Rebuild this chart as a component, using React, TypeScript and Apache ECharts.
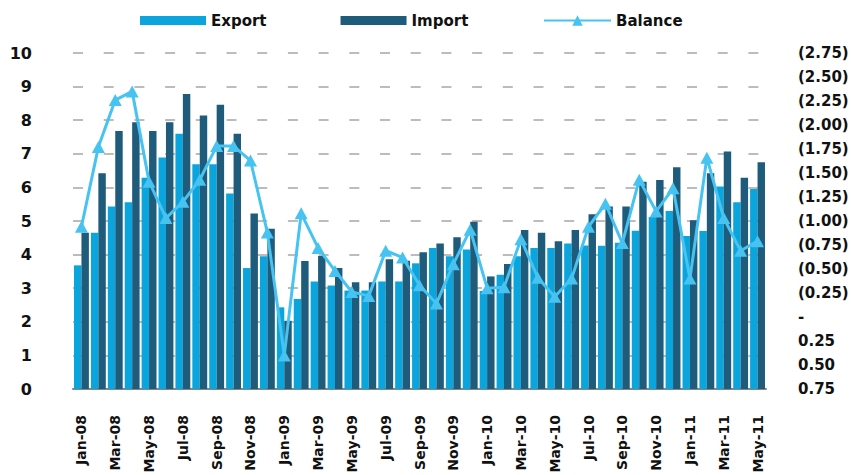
import React, { useEffect, useRef } from "react";
import * as echarts from "echarts";

const months = [
  "Jan-08","Feb-08","Mar-08","Apr-08","May-08","Jun-08","Jul-08","Aug-08","Sep-08","Oct-08","Nov-08","Dec-08",
  "Jan-09","Feb-09","Mar-09","Apr-09","May-09","Jun-09","Jul-09","Aug-09","Sep-09","Oct-09","Nov-09","Dec-09",
  "Jan-10","Feb-10","Mar-10","Apr-10","May-10","Jun-10","Jul-10","Aug-10","Sep-10","Oct-10","Nov-10","Dec-10",
  "Jan-11","Feb-11","Mar-11","Apr-11","May-11",
];

const exportValues = [
  3.68, 4.65, 5.43, 5.56, 6.29, 6.89, 7.6, 6.69, 6.69, 5.82, 3.6, 3.95,
  2.43, 2.68, 3.2, 3.08, 2.93, 2.93, 3.2, 3.2, 3.74, 4.2, 3.95, 4.15,
  2.92, 3.4, 3.95, 4.2, 4.2, 4.33, 4.27, 4.26, 4.35, 4.71, 5.12, 5.3,
  4.55, 4.7, 6.03, 5.56, 5.95,
];

const importValues = [
  4.65, 6.42, 7.68, 7.94, 7.68, 7.94, 8.78, 8.14, 8.46, 7.6, 5.22, 4.77,
  2.03, 3.81, 3.96, 3.6, 3.18, 3.18, 3.86, 3.82, 4.07, 4.33, 4.52, 4.98,
  3.35, 3.72, 4.73, 4.65, 4.4, 4.73, 5.2, 5.43, 5.43, 6.17, 6.22, 6.6,
  5.02, 6.42, 7.07, 6.29, 6.75,
];

const balanceValues = [
  -0.94, -1.77, -2.26, -2.35, -1.41, -1.03, -1.2, -1.43, -1.78, -1.78, -1.63, -0.88,
  0.4, -1.08, -0.72, -0.48, -0.26, -0.22, -0.69, -0.62, -0.33, -0.14, -0.55, -0.91,
  -0.3, -0.31, -0.81, -0.41, -0.21, -0.4, -0.94, -1.18, -0.77, -1.43, -1.1, -1.34,
  -0.4, -1.66, -1.03, -0.69, -0.79,
];

const FONT = "DejaVu Sans";
const EXPORT_COLOR = "#0AA5DC";
const IMPORT_COLOR = "#1F5B7A";
const BALANCE_COLOR = "#46C3F0";

function fmtRight(v: number): string {
  const r = Math.round(v * 100) / 100;
  if (Math.abs(r) < 1e-9) return "-";
  if (r < 0) return "(" + Math.abs(r).toFixed(2) + ")";
  return r.toFixed(2);
}

export default function App() {
  const ref = useRef<HTMLDivElement>(null);
  useEffect(() => {
    if (!ref.current) return;
    const chart = echarts.init(ref.current, undefined, { renderer: "svg" });
    const textStyle = { fontFamily: FONT, fontWeight: "bold" as const, fontSize: 15, color: "#111" };
    chart.setOption({
      animation: false,
      backgroundColor: "#fff",
      legend: [
        {
          data: ["Export", "Import"],
          left: 140,
          top: 13,
          padding: 0,
          icon: "rect",
          itemWidth: 66,
          itemHeight: 9,
          itemGap: 74,
          textStyle: { ...textStyle },
        },
        {
          data: ["Balance"],
          left: 543,
          top: 13,
          padding: 0,
          itemWidth: 67,
          itemHeight: 13,
          textStyle: { ...textStyle },
        },
      ],
      grid: {
        left: 73,
        right: 85,
        top: 53,
        bottom: 86,
        containLabel: false,
        outerBoundsMode: "none",
      },
      xAxis: {
        type: "category",
        data: months,
        boundaryGap: true,
        axisLine: { show: true, lineStyle: { color: "#858585", width: 2 } },
        axisTick: { show: false },
        axisLabel: {
          interval: 1,
          rotate: 90,
          margin: 26,
          fontFamily: FONT,
          fontWeight: "bold",
          fontSize: 14,
          color: "#111",
        },
      },
      yAxis: [
        {
          type: "value",
          min: 0,
          max: 10,
          interval: 1,
          axisLine: { show: false },
          axisTick: { show: false },
          axisLabel: { ...textStyle, fontSize: 16, margin: 41 },
          splitLine: {
            show: true,
            lineStyle: { color: "#A6A6A6", width: 1.5, type: [10, 20.7] },
          },
        },
        {
          type: "value",
          min: -2.75,
          max: 0.75,
          interval: 0.25,
          inverse: true,
          position: "right",
          axisLine: { show: false },
          axisTick: { show: false },
          splitLine: { show: false },
          axisLabel: { ...textStyle, margin: 32, formatter: fmtRight },
        },
      ],
      series: [
        {
          name: "Export",
          type: "bar",
          data: exportValues,
          itemStyle: { color: EXPORT_COLOR },
          barGap: "0%",
          barCategoryGap: "12%",
        },
        {
          name: "Import",
          type: "bar",
          data: importValues,
          itemStyle: { color: IMPORT_COLOR },
          barGap: "0%",
          barCategoryGap: "12%",
        },
        {
          name: "Balance",
          type: "line",
          yAxisIndex: 1,
          data: balanceValues,
          symbol: "triangle",
          symbolSize: [13, 12],
          showAllSymbol: true,
          lineStyle: { color: BALANCE_COLOR, width: 3 },
          itemStyle: { color: BALANCE_COLOR },
          z: 5,
        },
      ],
    });
    return () => chart.dispose();
  }, []);
  return (
    <div
      ref={ref}
      style={{ position: "fixed", left: 0, top: 0, width: 851, height: 475, background: "#fff" }}
    />
  );
}
